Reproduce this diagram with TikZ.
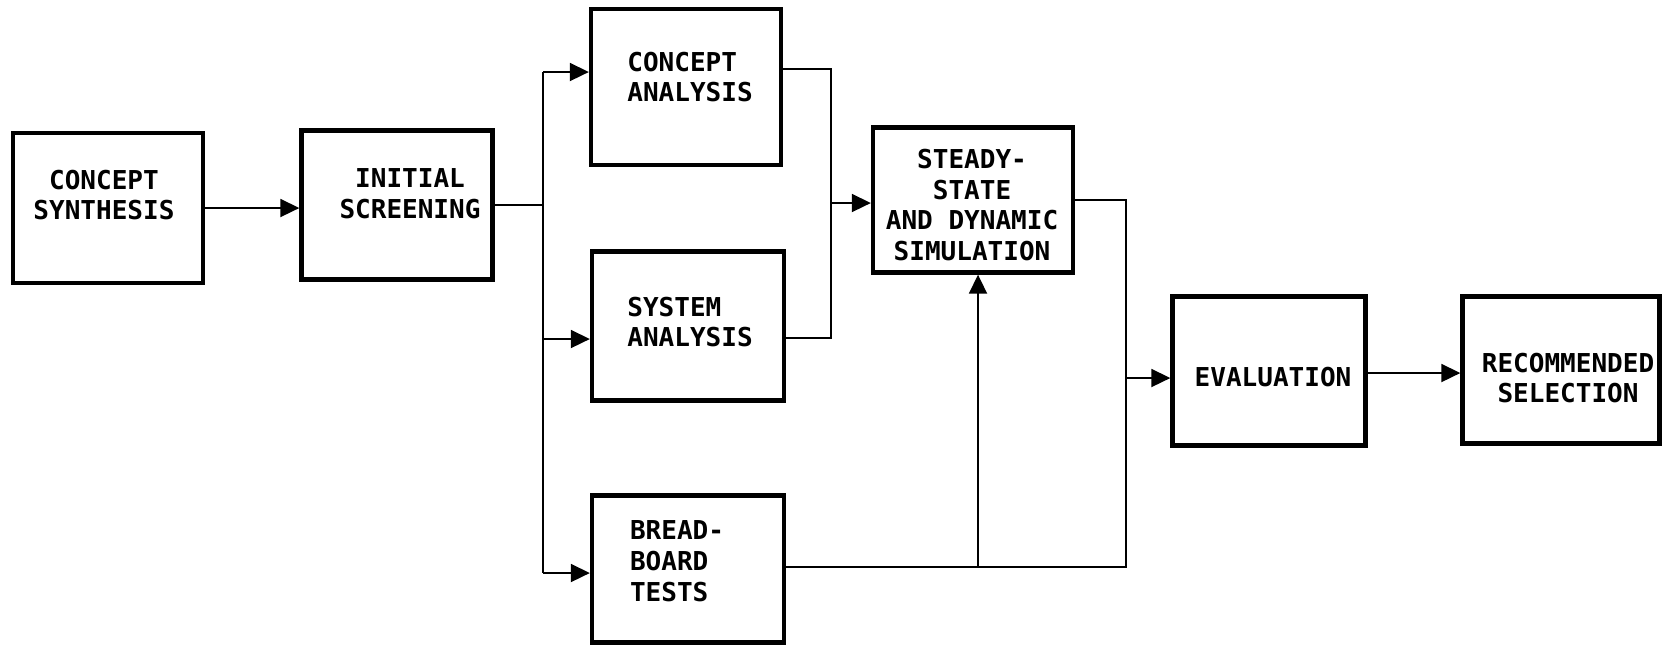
\documentclass[tikz,border=0pt]{standalone}
\usepackage{fontspec}
\setmonofont{DejaVu Sans Mono}
\usetikzlibrary{arrows.meta, positioning, calc}

\begin{document}
\begin{tikzpicture}[x=0.01cm, y=-0.01cm, font=\ttfamily\bfseries\fontsize{7.4}{8.8}\selectfont, blk/.style={draw, line width=1.2pt, inner sep=0pt}, lbl/.style={inner sep=0pt}, ln/.style={line width=0.5pt}, ar/.style={ln, -{Triangle[length=1.9mm, width=1.8mm]}}]
\useasboundingbox (0,0) rectangle (1670,647);
\node[blk, minimum width=1.90cm, minimum height=1.50cm] (cs) at (108,208) {};
\node[blk, minimum width=1.91cm, minimum height=1.49cm] (is) at (397,205) {};
\node[blk, minimum width=1.90cm, minimum height=1.56cm] (ca) at (686,87) {};
\node[blk, minimum width=1.92cm, minimum height=1.49cm] (sa) at (688,326) {};
\node[blk, minimum width=1.92cm, minimum height=1.47cm] (bt) at (688,569) {};
\node[blk, minimum width=2.00cm, minimum height=1.45cm] (ss) at (973,200) {};
\node[blk, minimum width=1.93cm, minimum height=1.49cm] (ev) at (1269,371) {};
\node[blk, minimum width=1.97cm, minimum height=1.47cm] (rs) at (1561,370) {};
% texts
\node[lbl, align=center] (cst) at (104,195) {CONCEPT\\SYNTHESIS};
\node[lbl, align=center] (ist) at (410,194) {INITIAL\\SCREENING};
\node[lbl, align=left] (cat) at (690,77) {CONCEPT\\ANALYSIS};
\node[lbl, align=left] (sat) at (690,322) {SYSTEM\\ANALYSIS};
\node[lbl, align=left] (btt) at (677,561) {BREAD-\\BOARD\\TESTS};
\node[lbl, align=center] (sst) at (972,205) {STEADY-\\STATE\\AND DYNAMIC\\SIMULATION};
\node[lbl] (evt) at (1273,377) {EVALUATION};
\node[lbl, align=center] (rst) at (1568,378) {RECOMMENDED\\SELECTION};
% junctions
\coordinate (b0) at (543,205); \coordinate (b1) at (543,72); \coordinate (b2) at (543,339); \coordinate (b3) at (543,573);
\coordinate (j1) at (831,69); \coordinate (j2) at (831,338); \coordinate (j0) at (831,203);
\coordinate (k1) at (1126,567); \coordinate (k0) at (1126,200); \coordinate (k2) at (1126,378); \coordinate (m) at (978,567);
\coordinate (e1) at (1365,373);
\draw[ar] (cs.east |- 0,208) -- (is.west |- 0,208);
\draw[ln] (is.east |- b0) -- (b0); \draw[ln] (b1) -- (b3);
\draw[ar] (b1) -- (b1 -| ca.west); \draw[ar] (b2) -- (b2 -| sa.west); \draw[ar] (b3) -- (b3 -| bt.west);
\draw[ln] (ca.east |- j1) -- (j1) -- (j2) -- (sa.east |- j2);
\draw[ar] (j0) -- (j0 -| ss.west);
\draw[ln] (bt.east |- k1) -- (k1) -- (k0) -- (k0 -| ss.east);
\draw[ar] (m) -- (m |- ss.south);
\draw[ar] (k2) -- (k2 -| ev.west);
\draw[ar] (e1) -- (e1 -| rs.west);
\end{tikzpicture}
\end{document}
